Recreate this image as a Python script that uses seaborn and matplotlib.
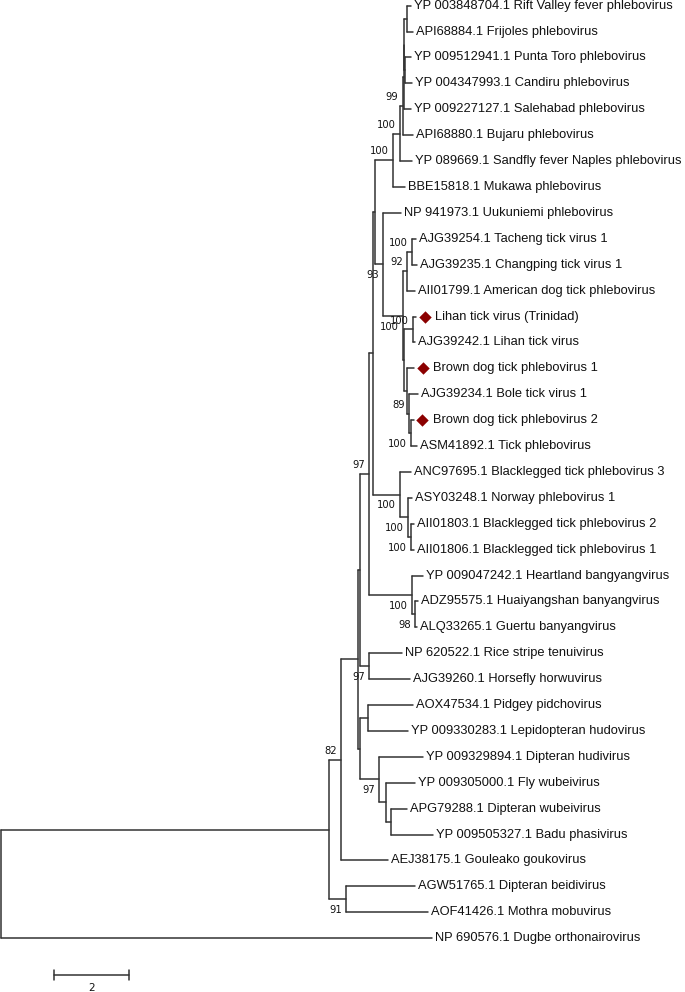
import matplotlib
matplotlib.use('Agg')
import pandas as pd
import matplotlib.pyplot as plt
import seaborn as sns

# 1. Tree data (branch lengths in substitutions)
leaf_labels = [
    'YP 003848704.1 Rift Valley fever phlebovirus',
    'API68884.1 Frijoles phlebovirus',
    'YP 009512941.1 Punta Toro phlebovirus',
    'YP 004347993.1 Candiru phlebovirus',
    'YP 009227127.1 Salehabad phlebovirus',
    'API68880.1 Bujaru phlebovirus',
    'YP 089669.1 Sandfly fever Naples phlebovirus',
    'BBE15818.1 Mukawa phlebovirus',
    'NP 941973.1 Uukuniemi phlebovirus',
    'AJG39254.1 Tacheng tick virus 1',
    'AJG39235.1 Changping tick virus 1',
    'AII01799.1 American dog tick phlebovirus',
    'Lihan tick virus (Trinidad)',
    'AJG39242.1 Lihan tick virus',
    'Brown dog tick phlebovirus 1',
    'AJG39234.1 Bole tick virus 1',
    'Brown dog tick phlebovirus 2',
    'ASM41892.1 Tick phlebovirus',
    'ANC97695.1 Blacklegged tick phlebovirus 3',
    'ASY03248.1 Norway phlebovirus 1',
    'AII01803.1 Blacklegged tick phlebovirus 2',
    'AII01806.1 Blacklegged tick phlebovirus 1',
    'YP 009047242.1 Heartland bangyangvirus',
    'ADZ95575.1 Huaiyangshan banyangvirus',
    'ALQ33265.1 Guertu banyangvirus',
    'NP 620522.1 Rice stripe tenuivirus',
    'AJG39260.1 Horsefly horwuvirus',
    'AOX47534.1 Pidgey pidchovirus',
    'YP 009330283.1 Lepidopteran hudovirus',
    'YP 009329894.1 Dipteran hudivirus',
    'YP 009305000.1 Fly wubeivirus',
    'APG79288.1 Dipteran wubeivirus',
    'YP 009505327.1 Badu phasivirus',
    'AEJ38175.1 Gouleako goukovirus',
    'AGW51765.1 Dipteran beidivirus',
    'AOF41426.1 Mothra mobuvirus',
    'NP 690576.1 Dugbe orthonairovirus',
]
leaf_parent = ['RF', 'RF', 'W', 'W', 'Y', 'X', 'N99', 'N100b', 'U',
               'Ntc', 'Ntc', 'N92', 'NL', 'NL', 'NBD1', 'N89', 'NBD2', 'NBD2',
               'NBL', 'Nbl1', 'Nbl2', 'Nbl2', 'Nbang', 'N98', 'N98',
               'Nrh', 'Nrh', 'Npl', 'Npl', 'Nhw', 'Nw', 'Ndb', 'Ndb',
               'B', 'N91', 'N91', 'root']
leaf_length = [0.120, 0.173, 0.160, 0.187, 0.200, 0.280, 0.320, 0.320, 0.480,
               0.107, 0.133, 0.213, 0.080, 0.053, 0.187, 0.240, 0.080, 0.160,
               0.293, 0.107, 0.080, 0.080, 0.293, 0.080, 0.053,
               0.880, 1.093, 1.200, 1.067, 1.173, 0.773, 0.427, 1.120,
               1.253, 1.840, 2.187, 11.493]

marked_leaves = ['Lihan tick virus (Trinidad)',
                 'Brown dog tick phlebovirus 1',
                 'Brown dog tick phlebovirus 2']

node_ids = ['A', 'B', 'N91', 'C', 'R', 'T', 'Q', 'Nrh', 'P', 'Nbang',
            'N100a', 'NBL', 'N100b', 'U', 'N99', 'X', 'Y', 'Z', 'RF', 'W',
            'Nt', 'N92', 'Ntc', 'NLB', 'NL', 'NBD1', 'N89', 'NBD2',
            'Nbl1', 'Nbl2', 'N98', 'Npl', 'Nhw', 'Nw', 'Ndb']
node_parent = ['root', 'A', 'A', 'B', 'C', 'C', 'R', 'R', 'Q', 'Q',
               'P', 'P', 'N100a', 'N100a', 'N100b', 'N99', 'X', 'Y', 'Z', 'Z',
               'U', 'Nt', 'N92', 'Nt', 'NLB', 'NLB', 'NBD1', 'N89',
               'NBL', 'Nbl1', 'Nbang', 'T', 'T', 'Nhw', 'Nw']
node_length = [8.747, 0.320, 0.453, 0.440, 0.067, 0.053, 0.240, 0.240, 0.107, 1.147,
               0.053, 0.720, 0.480, 0.213, 0.187, 0.067, 0.027, 0.013, 0.067, 0.027,
               0.533, 0.107, 0.133, 0.040, 0.227, 0.067, 0.053, 0.053,
               0.213, 0.080, 0.080, 0.227, 0.520, 0.187, 0.133]

support_nodes = ['X', 'N99', 'N100b', 'U', 'Ntc', 'N92', 'NL', 'Nt', 'N89', 'NBD2',
                 'Q', 'NBL', 'Nbl1', 'Nbl2', 'Nbang', 'N98', 'Nrh', 'Nhw', 'B', 'N91']
support_values = [99, 100, 100, 93, 100, 92, 100, 100, 89, 100,
                  97, 100, 100, 100, 100, 98, 97, 97, 82, 91]

scale_length = 2

# 2. Layout: x = cumulative branch length, y = leaf order / midpoint of children
parent_of = dict(zip(node_ids, node_parent))
length_of = dict(zip(node_ids, node_length))
for i, lab in enumerate(leaf_labels):
    parent_of[i] = leaf_parent[i]
    length_of[i] = leaf_length[i]

children = {}
for n, p in parent_of.items():
    children.setdefault(p, []).append(n)

pos_x = {'root': 0.0}
def get_x(n):
    if n not in pos_x:
        pos_x[n] = get_x(parent_of[n]) + length_of[n]
    return pos_x[n]

pos_y = {}
def get_y(n):
    if n not in pos_y:
        if isinstance(n, int):
            pos_y[n] = float(n)
        else:
            ys = [get_y(c) for c in children[n]]
            pos_y[n] = (min(ys) + max(ys)) / 2
    return pos_y[n]

rows = []
seg = 0
for n in parent_of:
    p = parent_of[n]
    rows += [(seg, get_x(p), get_y(n)), (seg, get_x(n), get_y(n))]
    seg += 1
for n, kids in children.items():
    ys = [get_y(c) for c in kids]
    rows += [(seg, get_x(n), min(ys)), (seg, get_x(n), max(ys))]
    seg += 1
df_seg = pd.DataFrame(rows, columns=['seg', 'x', 'y'])

# 3. Draw
sns.set_style('white')
fig = plt.figure(figsize=(6.85, 9.92), dpi=100)
ax = fig.add_axes([0, 0, 1, 1])

line_col = '#333333'
sns.lineplot(data=df_seg, x='x', y='y', units='seg', estimator=None, sort=False,
             color=line_col, lw=1.1, ax=ax, legend=False)

px = 1 / 37.5  # one pixel in tree units
for i, lab in enumerate(leaf_labels):
    x0 = get_x(i)
    if lab in marked_leaves:
        ax.text(x0 + 19 * px, i, lab, va='center', ha='left', fontsize=9.3,
                family='Liberation Sans', color='#111111')
    else:
        ax.text(x0 + 3 * px, i, lab, va='center', ha='left', fontsize=9.3,
                family='Liberation Sans', color='#111111')

mk = [i for i, lab in enumerate(leaf_labels) if lab in marked_leaves]
sns.scatterplot(x=[get_x(i) + 8.5 * px for i in mk], y=mk, marker='D',
                s=40, color='#8b0000', linewidth=0, ax=ax, legend=False)

below = {'U', 'Nt', 'NBD2', 'NBL', 'Nbl1', 'Nbl2', 'Nbang', 'N98', 'Nrh', 'Nhw', 'N91'}
for n, v in zip(support_nodes, support_values):
    dy = 0.42 if n in below else -0.34
    ax.text(get_x(n) - 4 * px, get_y(n) + dy, str(v), ha='right', va='center',
            fontsize=7.2, family='DejaVu Sans', color='#111111')

# scale bar
sb_x0, sb_y = 1.413, 37.42
ax.plot([sb_x0, sb_x0 + scale_length], [sb_y, sb_y], color=line_col, lw=1.1)
for xx in (sb_x0, sb_x0 + scale_length):
    ax.plot([xx, xx], [sb_y - 0.2, sb_y + 0.2], color=line_col, lw=1.1)
ax.text(sb_x0 + scale_length / 2, sb_y + 0.5, str(scale_length), ha='center', va='center',
        fontsize=7.5, family='DejaVu Sans', color='#111111')

ax.set_xlim(-1 * px, 684 * px)
ax.set_ylim(38.08, -0.22)
ax.axis('off')
fig.savefig('out.png', dpi=100)
